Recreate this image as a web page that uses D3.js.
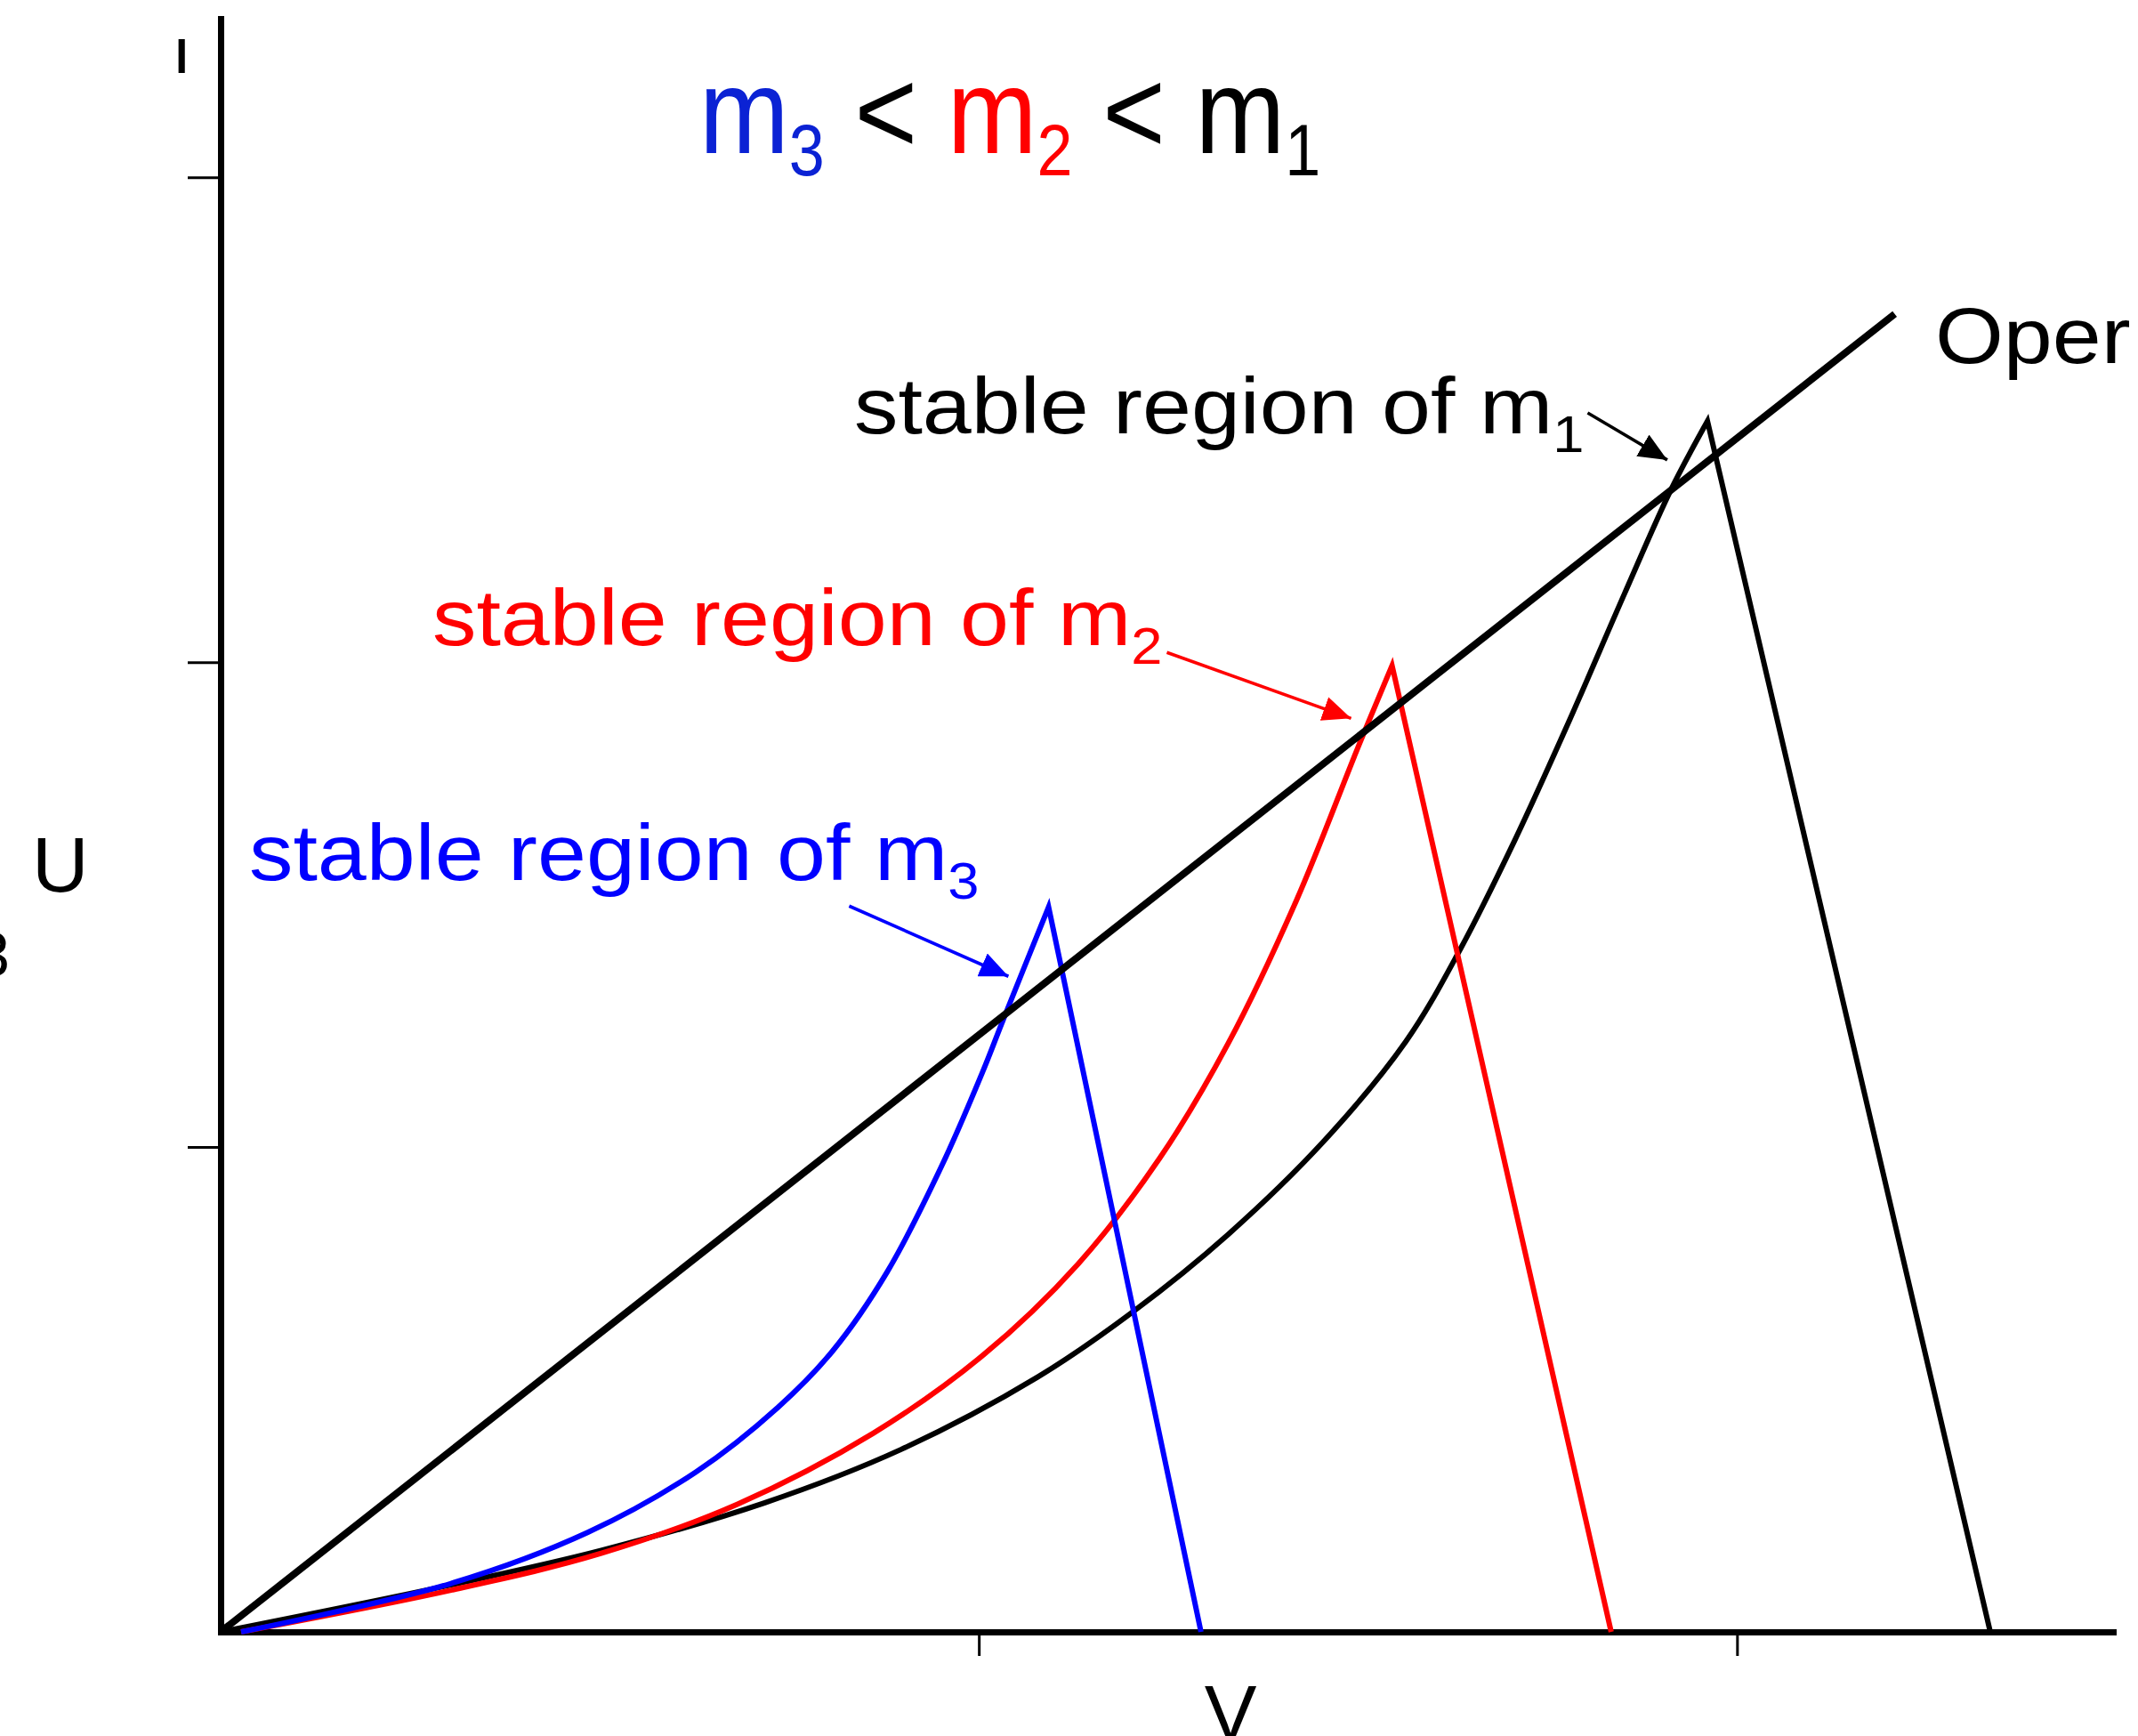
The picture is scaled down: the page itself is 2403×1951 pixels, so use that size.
<!DOCTYPE html>
<html>
<head>
<meta charset="utf-8">
<script src="https://cdn.jsdelivr.net/npm/d3@7"></script>
<style>
  html, body { margin: 0; padding: 0; background: #ffffff; }
  svg { display: block; }
  text { font-family: "Liberation Sans", Arial, Helvetica, sans-serif; }
</style>
</head>
<body>
<svg id="chart" width="2403" height="1951"></svg>
<script>
// ---------------- data (x = V, y = U, arbitrary units) ----------------
const xTicks = [1, 2];
const yTicks = [1, 2, 3];

// operating line
const operatingLine = [[0, 0], [2.208, 2.718]];

// m1 (black): rising part, then straight drop to the V axis
const m1Rise = [[0, 0], [0.304, 0.097], [0.502, 0.168], [0.717, 0.266], [0.897, 0.376],
  [1.077, 0.525], [1.203, 0.660], [1.329, 0.820], [1.455, 1.012], [1.563, 1.217],
  [1.635, 1.408], [1.707, 1.633], [1.779, 1.880], [1.851, 2.139], [1.913, 2.356], [1.961, 2.497]];
const m1Foot = [2.334, 0];

// m2 (red)
const m2Rise = [[0.027, 0], [0.304, 0.086], [0.502, 0.162], [0.681, 0.263], [0.861, 0.410],
  [1.005, 0.570], [1.131, 0.759], [1.239, 0.978], [1.329, 1.214], [1.419, 1.509],
  [1.500, 1.824], [1.545, 1.993]];
const m2Foot = [1.834, 0];

// m3 (blue)
const m3Rise = [[0.027, 0], [0.304, 0.100], [0.484, 0.205], [0.627, 0.330], [0.735, 0.463],
  [0.807, 0.579], [0.879, 0.742], [0.951, 0.961], [1.005, 1.155], [1.032, 1.262], [1.092, 1.495]];
const m3Foot = [1.293, 0];

// annotation arrows: [start, tip] in data units
const arrowM1 = [[1.803, 2.514], [1.908, 2.417]];
const arrowM2 = [[1.248, 2.020], [1.491, 1.884]];
const arrowM3 = [[0.829, 1.497], [1.039, 1.352]];

// ---------------- layout ----------------
const svg = d3.select("#chart");
const x = d3.scaleLinear().domain([0, 2.496]).range([248, 2375]);
const y = d3.scaleLinear().domain([0, 3.327]).range([1834, 21]);

const BLUE = "#0000ff", RED = "#ff0000", BLACK = "#000000";

// defs: arrow markers
const defs = svg.append("defs");
function marker(id, color) {
  defs.append("marker")
    .attr("id", id)
    .attr("viewBox", "0 0 32 28")
    .attr("refX", 32).attr("refY", 14)
    .attr("markerWidth", 32).attr("markerHeight", 28)
    .attr("markerUnits", "userSpaceOnUse")
    .attr("orient", "auto")
    .append("path").attr("d", "M0,0 L32,14 L0,28 Z").attr("fill", color);
}
marker("arB", BLACK); marker("arR", RED); marker("arU", BLUE);

// axes
const gx = svg.append("g").attr("transform", `translate(0,${y(0)})`)
  .call(d3.axisBottom(x).tickValues(xTicks).tickSize(27).tickSizeOuter(0).tickFormat(""));
const gy = svg.append("g").attr("transform", `translate(${x(0)},0)`)
  .call(d3.axisLeft(y).tickValues(yTicks).tickSize(37).tickSizeOuter(0).tickFormat(""));
[gx, gy].forEach(g => {
  g.select(".domain").attr("stroke", BLACK).attr("stroke-width", 7).attr("stroke-linecap", "square");
  g.selectAll(".tick line").attr("stroke", BLACK).attr("stroke-width", 3);
});

// curves
const smooth = d3.line().x(d => x(d[0])).y(d => y(d[1])).curve(d3.curveCatmullRom.alpha(0.5));
const straight = d3.line().x(d => x(d[0])).y(d => y(d[1]));

function curve(rise, foot, color) {
  svg.append("path")
    .attr("d", smooth(rise) + "L" + x(foot[0]) + "," + y(foot[1]))
    .attr("fill", "none").attr("stroke", color).attr("stroke-width", 6)
    .attr("stroke-linejoin", "miter").attr("stroke-miterlimit", 20);
}
curve(m1Rise, m1Foot, BLACK);
curve(m2Rise, m2Foot, RED);
curve(m3Rise, m3Foot, BLUE);

svg.append("path").attr("d", straight(operatingLine))
  .attr("fill", "none").attr("stroke", BLACK).attr("stroke-width", 8);

// arrows
function arrow(a, color, id) {
  svg.append("path").attr("d", straight(a))
    .attr("stroke", color).attr("stroke-width", 3.6).attr("fill", "none")
    .attr("marker-end", `url(#${id})`);
}
arrow(arrowM1, BLACK, "arB");
arrow(arrowM2, RED, "arR");
arrow(arrowM3, BLUE, "arU");

// annotation texts (stretched horizontally like the original)
function label(px, py, main, sub, color) {
  const t = svg.append("text")
    .attr("transform", `translate(${px},${py}) scale(1.11,1)`)
    .attr("fill", color).attr("font-size", 89);
  t.append("tspan").text(main);
  if (sub) t.append("tspan").attr("font-size", 57).attr("dy", 21).text(sub);
}
label(960, 487, "stable region of m", "1", BLACK);
label(486, 725, "stable region of m", "2", RED);
label(280, 989, "stable region of m", "3", BLUE);
label(2175, 408, "Oper", null, BLACK);

// title (slightly stretched vertically like the original)
const title = svg.append("text")
  .attr("transform", "translate(786,172) scale(1,1.12)")
  .attr("font-size", 121);
title.append("tspan").attr("fill", "#0b22d4").text("m");
title.append("tspan").attr("fill", "#0b22d4").attr("font-size", 72).attr("dy", 22).text("3");
title.append("tspan").attr("fill", BLACK).attr("dy", -22).text(" < ");
title.append("tspan").attr("fill", RED).text("m");
title.append("tspan").attr("fill", RED).attr("font-size", 72).attr("dy", 22).text("2");
title.append("tspan").attr("fill", BLACK).attr("dy", -22).text(" < m");
title.append("tspan").attr("fill", BLACK).attr("font-size", 72).attr("dy", 22).text("1");

// axis letters
svg.append("text").attr("x", 36).attr("y", 1002).attr("font-size", 88).text("U");
svg.append("text").attr("x", 1383).attr("y", 1955).attr("font-size", 88)
  .attr("text-anchor", "middle").text("V");

// cut-off remnants at the left edge
svg.append("text").attr("x", 197).attr("y", 82).attr("font-size", 52).attr("font-weight", "bold").text("l");
svg.append("text").attr("x", -28).attr("y", 1097).attr("font-size", 70).text("3");
</script>
</body>
</html>
